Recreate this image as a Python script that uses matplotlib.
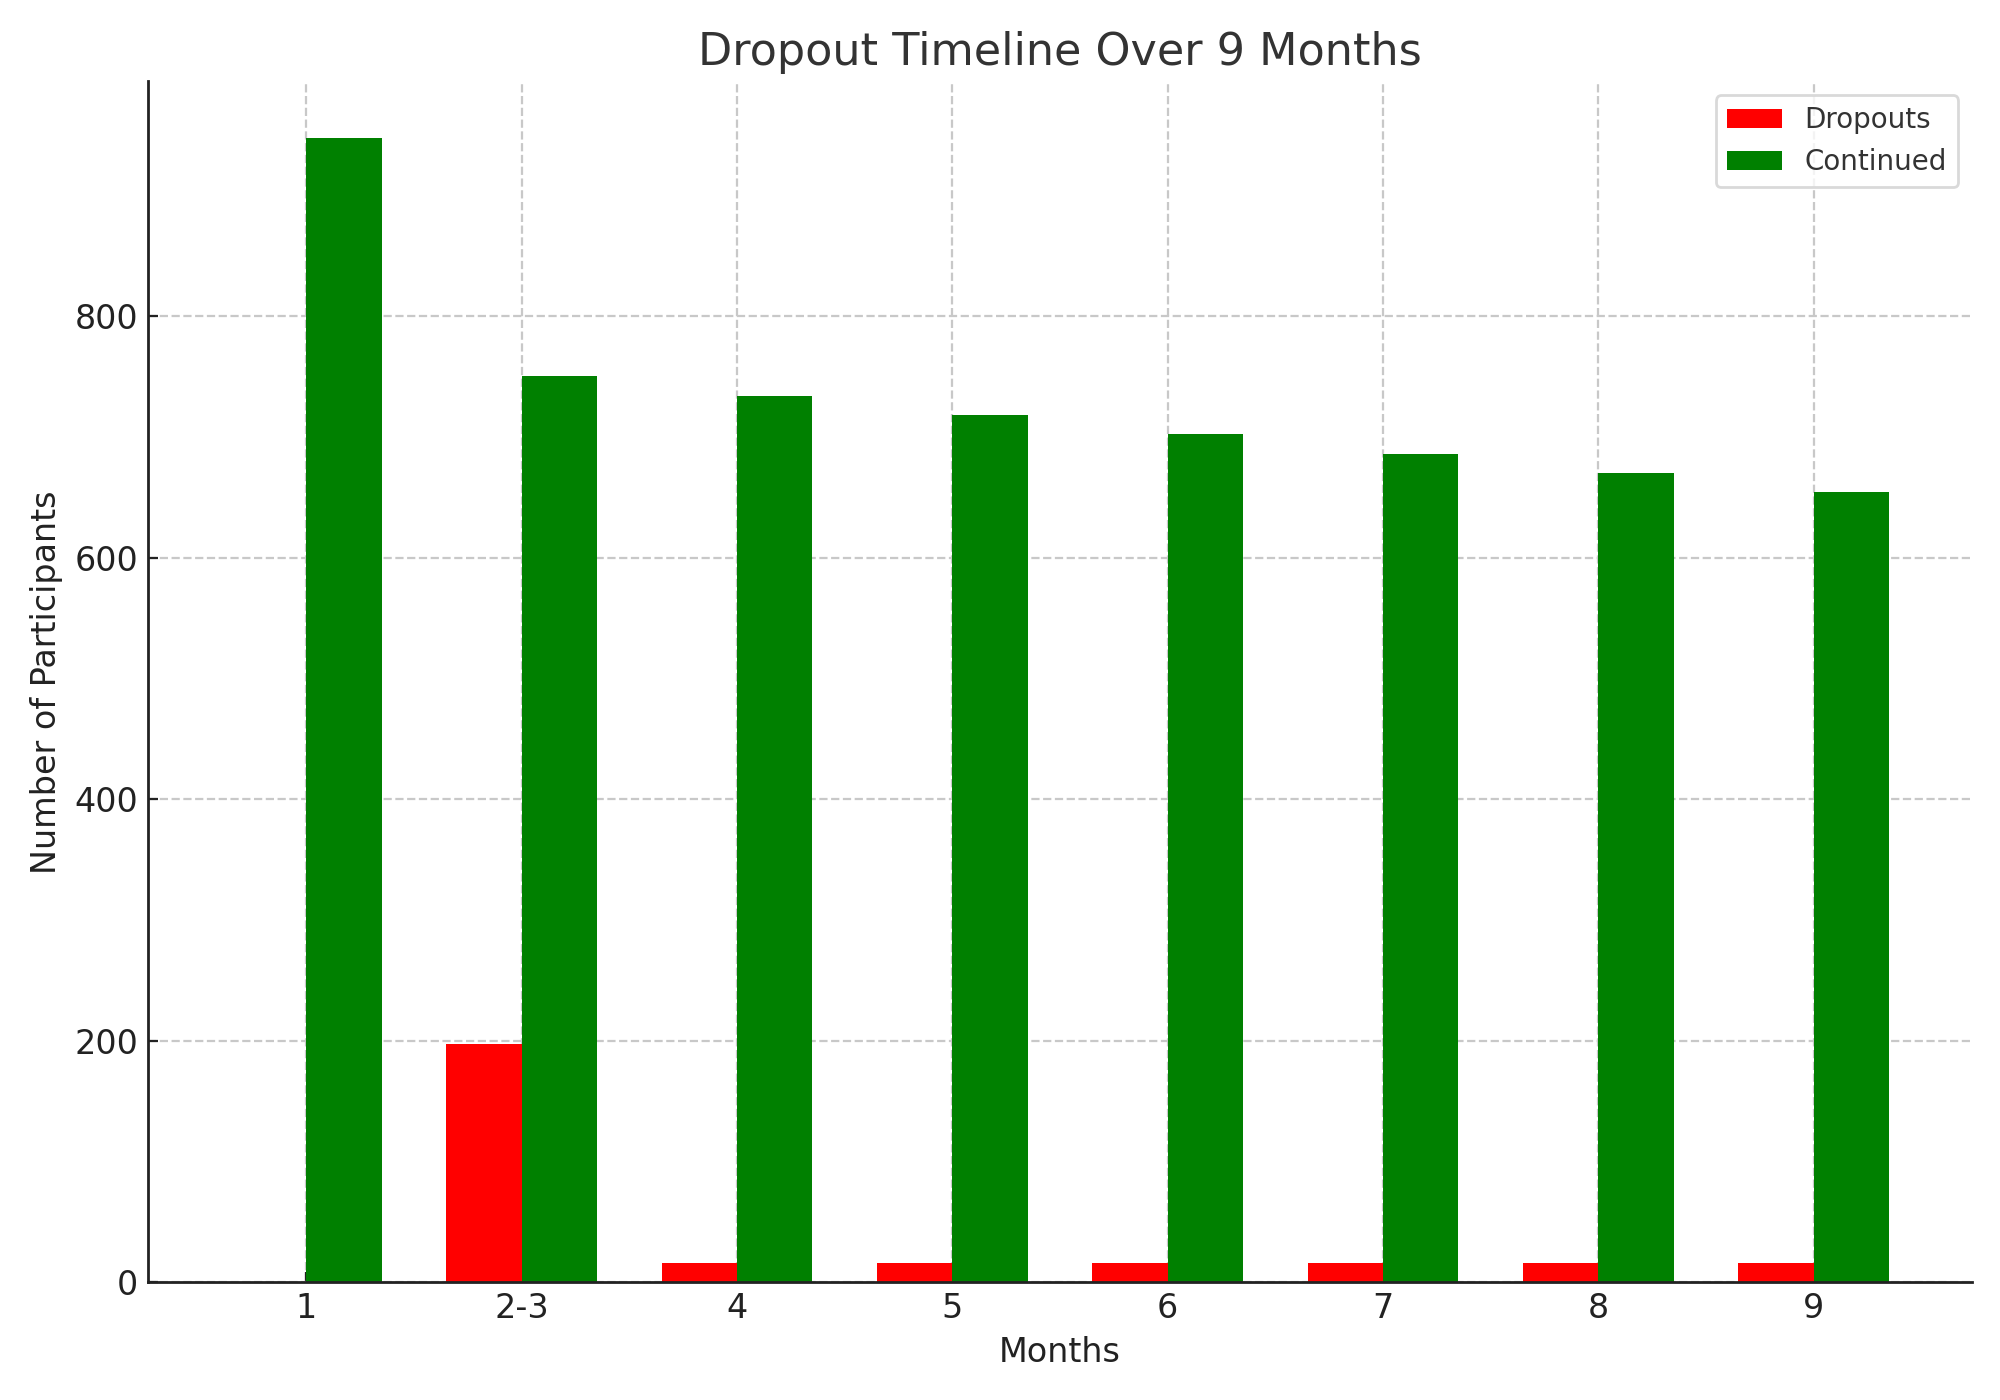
import matplotlib.pyplot as plt
import numpy as np

meses = ["1", "2-3", "4", "5", "6", "7", "8", "9"]
desistencias = [0, 197, 16, 16, 16, 16, 16, 16]
continuaram = [947, 750, 734, 718, 702, 686, 670, 654]

largura = 0.35
x = np.arange(len(meses))

fig, ax = plt.subplots(figsize=(10, 7), dpi=200)

ax.bar(x, desistencias, width=-largura, align="edge", color="red", label="Dropouts")
ax.bar(x, continuaram, width=largura, align="edge", color="green", label="Continued")

ax.set_title("Dropout Timeline Over 9 Months", fontsize=16, color="#333333")
ax.set_xlabel("Months", fontsize=12, color="#222222")
ax.set_ylabel("Number of Participants", fontsize=12, color="#222222")
ax.set_xticks(x)
ax.set_xticklabels(meses)
ax.tick_params(axis="both", direction="in", labelsize=12, colors="#222222")

ax.set_axisbelow(True)
ax.grid(True, linestyle="--", color="#c8c8c8", linewidth=0.8)

for lado in ["top", "right"]:
    ax.spines[lado].set_visible(False)
for lado in ["left", "bottom"]:
    ax.spines[lado].set_color("#222222")
    ax.spines[lado].set_linewidth(1.0)
    ax.spines[lado].set_zorder(3)

leg = ax.legend(loc="upper right", fontsize=10, frameon=True)
for t in leg.get_texts():
    t.set_color("#333333")
leg.get_frame().set_edgecolor("#d0d0d0")

fig.subplots_adjust(left=0.074, right=0.986, top=0.942, bottom=0.084)
fig.savefig("out.png")
